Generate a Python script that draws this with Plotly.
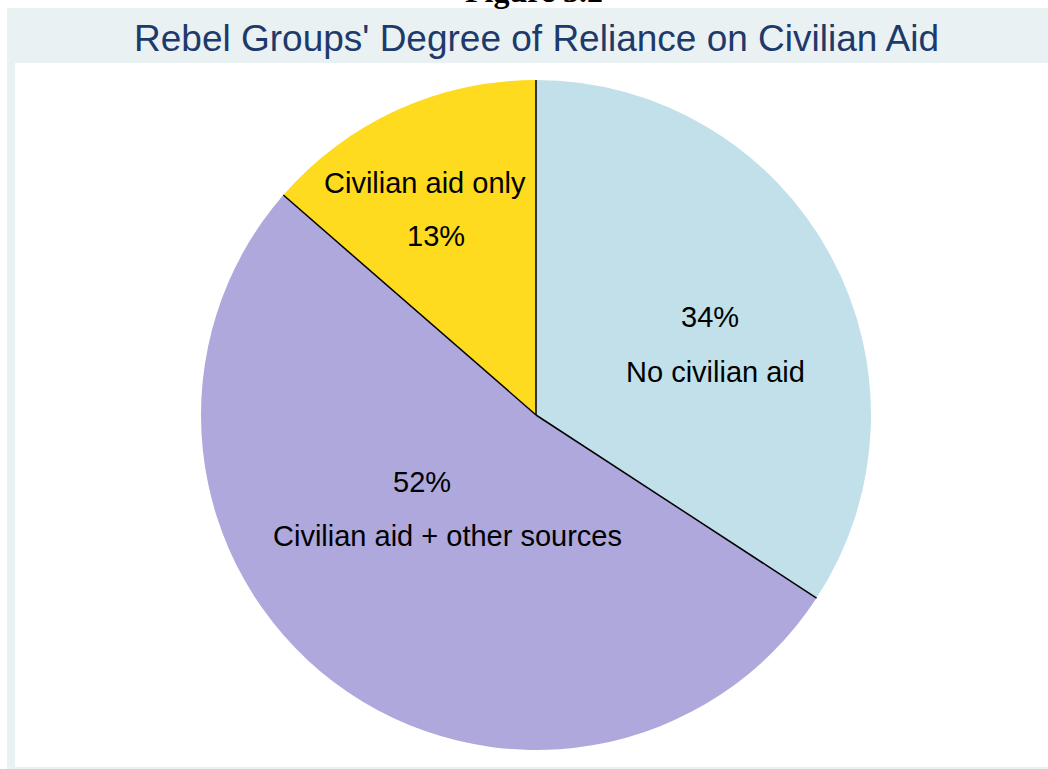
import math
import plotly.graph_objects as go

# ---- data ----
categories = ["No civilian aid", "Civilian aid + other sources", "Civilian aid only"]
values = [34.2, 52.2, 13.6]
pct_labels = ["34%", "52%", "13%"]
colors = ["#c1e0ea", "#aea8dc", "#fedb1e"]

W, H = 1048, 769
ML, MR, MT, MB = 15, 0, 63, 2
PW, PH = W - ML - MR, H - MT - MB


def px(x):
    return (x - ML) / PW


def py(y):
    return (H - MB - y) / PH


# pie geometry (pixels)
CX, CY, R = 536, 415, 335

fig = go.Figure()
fig.add_trace(go.Pie(
    labels=categories,
    values=values,
    sort=False,
    direction="clockwise",
    rotation=0,
    marker=dict(colors=colors, line=dict(width=0)),
    textinfo="none",
    hoverinfo="label+percent",
    showlegend=False,
    domain=dict(x=[px(CX - R), px(CX + R)], y=[py(CY + R), py(CY - R)]),
))

shapes = [
    dict(type="rect", xref="paper", yref="paper", x0=px(7), x1=px(W + 5), y0=py(H + 5), y1=py(8),
         fillcolor="#eaf1f3", line=dict(width=0), layer="below"),
    dict(type="rect", xref="paper", yref="paper", x0=0, x1=px(W + 5), y0=0, y1=1,
         fillcolor="white", line=dict(width=0), layer="below"),
]

# radial separators between slices, derived from the data
total = sum(values)
cum = 0.0
for v in [0] + values[:-1]:
    cum += v
    ang = 2 * math.pi * cum / total
    ex = CX + R * math.sin(ang)
    ey = CY - R * math.cos(ang)
    shapes.append(dict(type="line", xref="paper", yref="paper",
                       x0=px(CX), y0=py(CY), x1=px(ex), y1=py(ey),
                       line=dict(color="black", width=1.5), layer="above"))

annotations = [
    dict(text="<b>Figure 3.2</b>", xref="paper", yref="paper", x=px(534), y=py(11),
         xanchor="center", yanchor="bottom", showarrow=False,
         font=dict(family="Liberation Serif, Times New Roman, serif", size=32, color="black")),
    dict(text="Rebel Groups' Degree of Reliance on Civilian Aid", xref="paper", yref="paper",
         x=px(536), y=py(38), xanchor="center", yanchor="middle", showarrow=False,
         font=dict(family="Liberation Sans, Arial, Helvetica, sans-serif", size=37, color="#1e3a6b")),
]

label_font = dict(family="Liberation Sans, Arial, Helvetica, sans-serif", size=29, color="black")
# (text, x, y) pixel anchors for slice labels
label_pos = [
    (pct_labels[0], 710, 317), (categories[0], 715, 372),
    (pct_labels[1], 422, 482), (categories[1], 447, 536),
    (categories[2], 425, 183), (pct_labels[2], 436, 236),
]
for t, x, y in label_pos:
    annotations.append(dict(text=t, xref="paper", yref="paper", x=px(x), y=py(y),
                            xanchor="center", yanchor="middle", showarrow=False, font=label_font))

fig.update_layout(
    width=W, height=H,
    margin=dict(l=ML, r=MR, t=MT, b=MB, pad=0),
    paper_bgcolor="white",
    shapes=shapes,
    annotations=annotations,
)

fig.write_html("out.html", config={"displayModeBar": False},
               post_script="document.body.style.margin='0';")
